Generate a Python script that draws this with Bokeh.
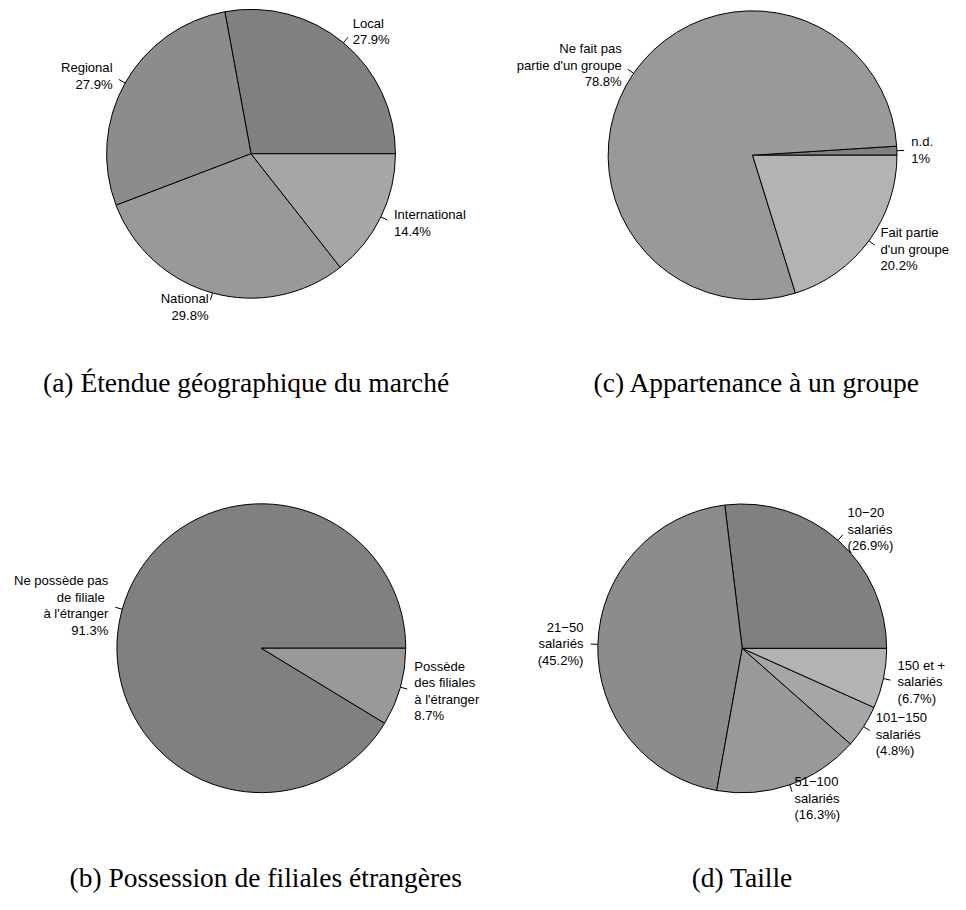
import math
from bokeh.plotting import figure
from bokeh.models import Range1d
from bokeh.core.properties import value
from bokeh.embed import file_html
from bokeh.resources import INLINE

# ---------------- data ----------------
market_labels = ["Local", "Regional", "National", "International"]
market_pct = [27.9, 27.9, 29.8, 14.4]

group_labels = ["n.d.", "Ne fait pas\npartie d'un groupe", "Fait partie\nd'un groupe"]
group_pct = [1.0, 78.8, 20.2]

subsid_labels = ["Ne possède pas\nde filiale \nà l'étranger", "Possède\ndes filiales\nà l'étranger"]
subsid_pct = [91.3, 8.7]

size_labels = ["10−20\nsalariés", "21−50\nsalariés", "51−100\nsalariés",
               "101−150\nsalariés", "150 et +\nsalariés"]
size_pct = [26.9, 45.2, 16.3, 4.8, 6.7]

captions = ["(a) Étendue géographique du marché", "(c) Appartenance à un groupe",
            "(b) Possession de filiales étrangères", "(d) Taille"]

# ---------------- styles ----------------
market_colors = ["#808080", "#8C8C8C", "#999999", "#A6A6A6"]
group_colors = ["#808080", "#999999", "#B3B3B3"]
subsid_colors = ["#808080", "#999999"]
size_colors = ["#808080", "#8C8C8C", "#999999", "#A6A6A6", "#B3B3B3"]

LABEL_FONT = "Liberation Sans"
CAPTION_FONT = "Liberation Serif"

# ---------------- layout (reference pixel coordinates, scaled to fit) ----------------
W, H = 950, 894
REF_W, REF_H = 966, 910
S = H / REF_H  # uniform scale so that the whole reference layout fits


def Y(yref):
    return REF_H - yref


panels = [
    dict(labels=market_labels, pct=market_pct, colors=market_colors, paren=False,
         cx=255.0, cy=156.0, r=147.0, cap=captions[0], capx=250.0, capy=389.0),
    dict(labels=group_labels, pct=group_pct, colors=group_colors, paren=False,
         cx=765.5, cy=157.5, r=147.0, cap=captions[1], capx=770.0, capy=389.0),
    dict(labels=subsid_labels, pct=subsid_pct, colors=subsid_colors, paren=False,
         cx=265.5, cy=659.3, r=147.0, cap=captions[2], capx=270.0, capy=893.0),
    dict(labels=size_labels, pct=size_pct, colors=size_colors, paren=True,
         cx=755.0, cy=659.5, r=147.0, cap=captions[3], capx=755.0, capy=893.0),
]

p = figure(width=W, height=H, output_backend="svg", toolbar_location=None,
           x_range=Range1d(0, W / S), y_range=Range1d(REF_H - H / S, REF_H),
           x_axis_location=None, y_axis_location=None, min_border=0)
p.grid.visible = False
p.outline_line_color = None
p.background_fill_color = "white"
p.border_fill_color = "white"

label_size = f"{13.3 * S:.2f}px"
caption_size = f"{28.0 * S:.2f}px"

for pn in panels:
    vals = pn["pct"]
    total = float(sum(vals))
    cum = [0.0]
    for v in vals:
        cum.append(cum[-1] + v)
    starts = [2 * math.pi * c / total for c in cum[:-1]]
    ends = [2 * math.pi * c / total for c in cum[1:]]
    cx, cy, r = pn["cx"], Y(pn["cy"]), pn["r"]

    p.wedge(x=[cx] * len(vals), y=[cy] * len(vals), radius=r,
            start_angle=starts, end_angle=ends, direction="anticlock",
            fill_color=pn["colors"], line_color="black", line_width=1)

    mids = [(s + e) / 2 for s, e in zip(starts, ends)]
    p.segment(x0=[cx + r * math.cos(m) for m in mids],
              y0=[cy + r * math.sin(m) for m in mids],
              x1=[cx + 1.05 * r * math.cos(m) for m in mids],
              y1=[cy + 1.05 * r * math.sin(m) for m in mids],
              line_color="black", line_width=1)

    for lab, v, m in zip(pn["labels"], vals, mids):
        pct_txt = f"({v:g}%)" if pn["paren"] else f"{v:g}%"
        txt = lab + "\n" + pct_txt
        align = "left" if math.cos(m) >= 0 else "right"
        p.text(x=[cx + 1.1 * r * math.cos(m)], y=[cy + 1.1 * r * math.sin(m)],
               text=[txt], text_align=align, text_baseline="middle",
               text_font=value(LABEL_FONT), text_font_size=label_size,
               text_line_height=1.1, text_color="black")

    p.text(x=[pn["capx"]], y=[Y(pn["capy"])], text=[pn["cap"]],
           text_align="center", text_baseline="middle",
           text_font=value(CAPTION_FONT), text_font_size=caption_size,
           text_color="black")

open("out.html", "w").write(file_html(p, INLINE))
